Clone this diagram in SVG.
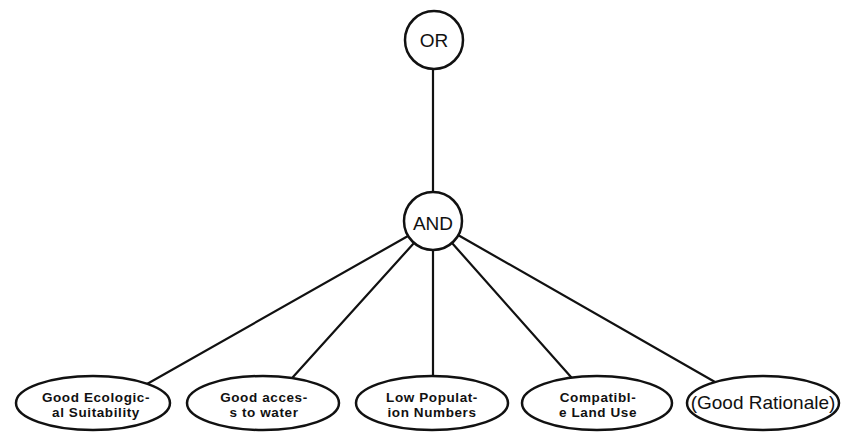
<svg xmlns="http://www.w3.org/2000/svg" width="841" height="432" viewBox="0 0 841 432">
  <style>
    .shape { fill: #ffffff; stroke: #111111; stroke-width: 2.5; }
    .wire { stroke: #111111; stroke-width: 2.2; fill: none; stroke-linecap: round; }
    .gate { font-family: "Liberation Sans", Arial, sans-serif; font-size: 19px; fill: #111111; text-anchor: middle; }
    .leaf { font-family: "Liberation Sans", Arial, sans-serif; font-size: 13.5px; font-weight: bold; letter-spacing: 0.6px; fill: #111111; text-anchor: middle; }
    .plain { font-family: "Liberation Sans", Arial, sans-serif; font-size: 19px; fill: #111111; text-anchor: middle; }
  </style>
  <rect width="841" height="432" fill="#ffffff"/>

  <!-- connectors -->
  <g id="connectors">
    <line class="wire" x1="433" y1="69" x2="433" y2="192"/>
    <line class="wire" x1="408" y1="236" x2="147" y2="384"/>
    <line class="wire" x1="414" y1="243" x2="293" y2="377"/>
    <line class="wire" x1="433" y1="250" x2="433" y2="376"/>
    <line class="wire" x1="452" y1="243" x2="571" y2="377"/>
    <line class="wire" x1="458" y1="235" x2="715" y2="382"/>
  </g>

  <!-- gates -->
  <g id="node-or">
    <circle class="shape" cx="434" cy="40" r="29"/>
    <text class="gate" x="434" y="47">OR</text>
  </g>
  <g id="node-and">
    <circle class="shape" cx="433" cy="221" r="29"/>
    <text class="gate" x="433" y="230">AND</text>
  </g>

  <!-- criteria -->
  <g id="node-ecology">
    <ellipse class="shape" cx="93" cy="403" rx="77" ry="27"/>
    <text class="leaf" x="96" y="402">Good Ecologic-</text>
    <text class="leaf" x="96" y="417">al Suitability</text>
  </g>
  <g id="node-water">
    <ellipse class="shape" cx="263" cy="403" rx="76" ry="27"/>
    <text class="leaf" x="264" y="402">Good acces-</text>
    <text class="leaf" x="264" y="417">s to water</text>
  </g>
  <g id="node-population">
    <ellipse class="shape" cx="432" cy="403" rx="76" ry="27"/>
    <text class="leaf" x="432" y="402">Low Populat-</text>
    <text class="leaf" x="432" y="417">ion Numbers</text>
  </g>
  <g id="node-landuse">
    <ellipse class="shape" cx="597" cy="403" rx="75" ry="27"/>
    <text class="leaf" x="598" y="402">Compatibl-</text>
    <text class="leaf" x="598" y="417">e Land Use</text>
  </g>
  <g id="node-rationale">
    <ellipse class="shape" cx="763" cy="403" rx="76" ry="27"/>
    <text class="plain" x="763" y="409">(Good Rationale)</text>
  </g>
</svg>
